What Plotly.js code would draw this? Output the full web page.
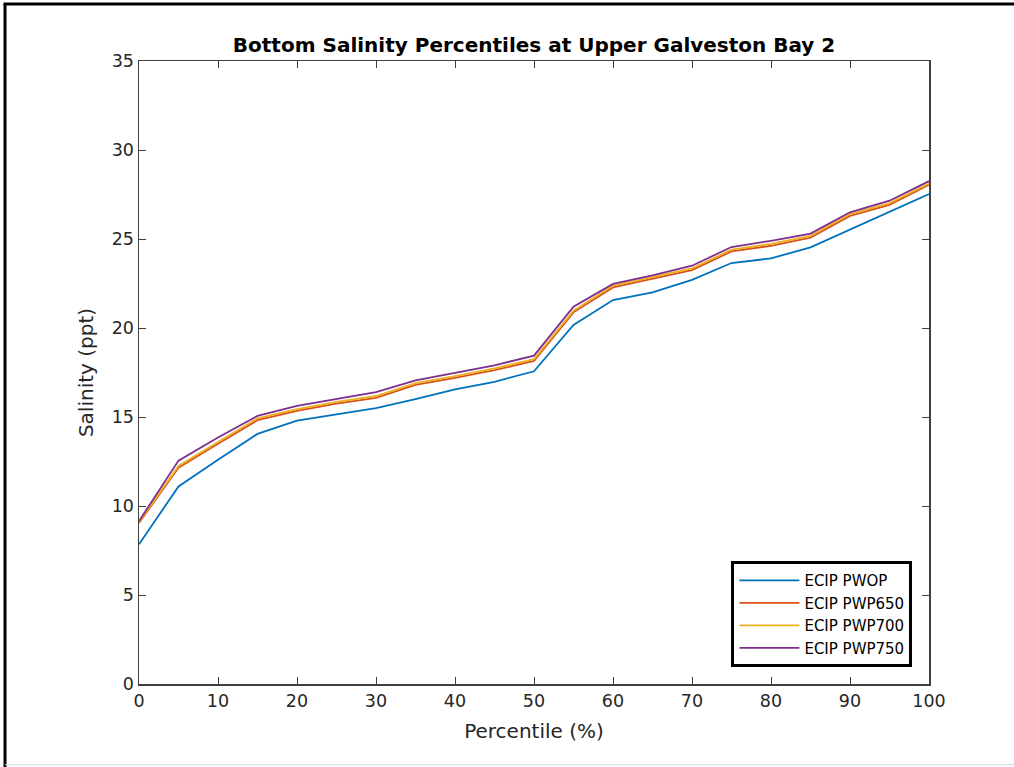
<!DOCTYPE html>
<html>
<head>
<meta charset="utf-8">
<script src="https://cdn.plot.ly/plotly-3.0.1.min.js"></script>
<style>
  html, body { margin: 0; padding: 0; background: #fff; }
  #chart { width: 1014px; height: 767px; }
</style>
</head>
<body>
<div id="chart"></div>
<script>
const percentiles = [0, 5, 10, 15, 20, 25, 30, 35, 40, 45, 50, 55, 60, 65, 70, 75, 80, 85, 90, 95, 100];
const pwop    = [7.85, 11.1, 12.6, 14.05, 14.8, 15.17, 15.5, 16.0, 16.55, 16.98, 17.57, 20.17, 21.57, 22.0, 22.7, 23.65, 23.91, 24.53, 25.54, 26.53, 27.53];
const pwp650  = [9.05, 12.15, 13.5, 14.82, 15.34, 15.75, 16.08, 16.8, 17.2, 17.63, 18.15, 20.88, 22.28, 22.75, 23.25, 24.3, 24.62, 25.08, 26.3, 26.92, 28.05];
const pwp700  = [9.1, 12.25, 13.6, 14.92, 15.44, 15.85, 16.18, 16.9, 17.3, 17.73, 18.25, 20.98, 22.38, 22.85, 23.35, 24.4, 24.72, 25.18, 26.4, 27.02, 28.12];
const pwp750  = [9.15, 12.55, 13.85, 15.06, 15.62, 16.0, 16.4, 17.06, 17.48, 17.9, 18.45, 21.2, 22.48, 22.95, 23.5, 24.55, 24.9, 25.3, 26.5, 27.15, 28.25];
const seriesNames = ['ECIP PWOP', 'ECIP PWP650', 'ECIP PWP700', 'ECIP PWP750'];
const seriesColors = ['#0072BD', '#D95319', '#EDB120', '#7E2F8E'];
const xTicks = [0, 10, 20, 30, 40, 50, 60, 70, 80, 90, 100];
const yTicks = [0, 5, 10, 15, 20, 25, 30, 35];

const allSeries = [pwop, pwp650, pwp700, pwp750];
const traces = allSeries.map((ys, i) => ({
  x: percentiles,
  y: ys,
  type: 'scatter',
  mode: 'lines',
  name: seriesNames[i],
  line: { color: seriesColors[i], width: 1.8 }
}));

const axisCommon = {
  showgrid: false,
  zeroline: false,
  showline: true,
  mirror: 'ticks',
  linecolor: '#404040',
  linewidth: 1.5,
  ticks: 'inside',
  ticklen: 7,
  tickwidth: 1,
  tickcolor: '#404040',
  tickfont: { family: 'DejaVu Sans, sans-serif', size: 17.5, color: '#262626' },
  fixedrange: true
};

const layout = {
  width: 1014,
  height: 767,
  paper_bgcolor: '#ffffff',
  plot_bgcolor: '#ffffff',
  margin: { l: 139, r: 85, t: 61, b: 83 },
  showlegend: true,
  title: {
    text: '<b>Bottom Salinity Percentiles at Upper Galveston Bay 2</b>',
    font: { family: 'DejaVu Sans, sans-serif', size: 20, color: '#000000' },
    x: 0.5267, xanchor: 'center',
    y: 0.941, yanchor: 'middle'
  },
  xaxis: Object.assign({}, axisCommon, {
    range: [0, 100],
    tickvals: xTicks,
    ticktext: xTicks.map(String),
    title: { text: 'Percentile (%)', font: { family: 'DejaVu Sans, sans-serif', size: 20, color: '#262626' }, standoff: 14 }
  }),
  yaxis: Object.assign({}, axisCommon, {
    range: [0, 35],
    tickvals: yTicks,
    ticktext: yTicks.map(String),
    title: { text: 'Salinity (ppt)', font: { family: 'DejaVu Sans, sans-serif', size: 20, color: '#262626' }, standoff: 12 }
  }),
  legend: {
    x: 0.979, xanchor: 'right',
    y: 0.027, yanchor: 'bottom',
    bgcolor: '#ffffff',
    bordercolor: '#000000',
    borderwidth: 3,
    font: { family: 'DejaVu Sans, sans-serif', size: 15, color: '#000000' },
    itemwidth: 60,
    tracegroupgap: 0
  },
  shapes: [
    { type: 'line', xref: 'paper', yref: 'paper', x0: -0.1696, x1: -0.1696, y0: -0.14, y1: 1.0915, line: { color: '#000000', width: 3 } },
    { type: 'line', xref: 'paper', yref: 'paper', x0: -0.1715, x1: 1.12, y0: 1.0915, y1: 1.0915, line: { color: '#000000', width: 3 } },
    { type: 'line', xref: 'paper', yref: 'paper', x0: -0.1696, x1: 1.12, y0: -0.1295, y1: -0.1295, line: { color: '#d8d8d8', width: 1 } }
  ]
};

Plotly.newPlot('chart', traces, layout, { staticPlot: true, displayModeBar: false });
</script>
</body>
</html>
